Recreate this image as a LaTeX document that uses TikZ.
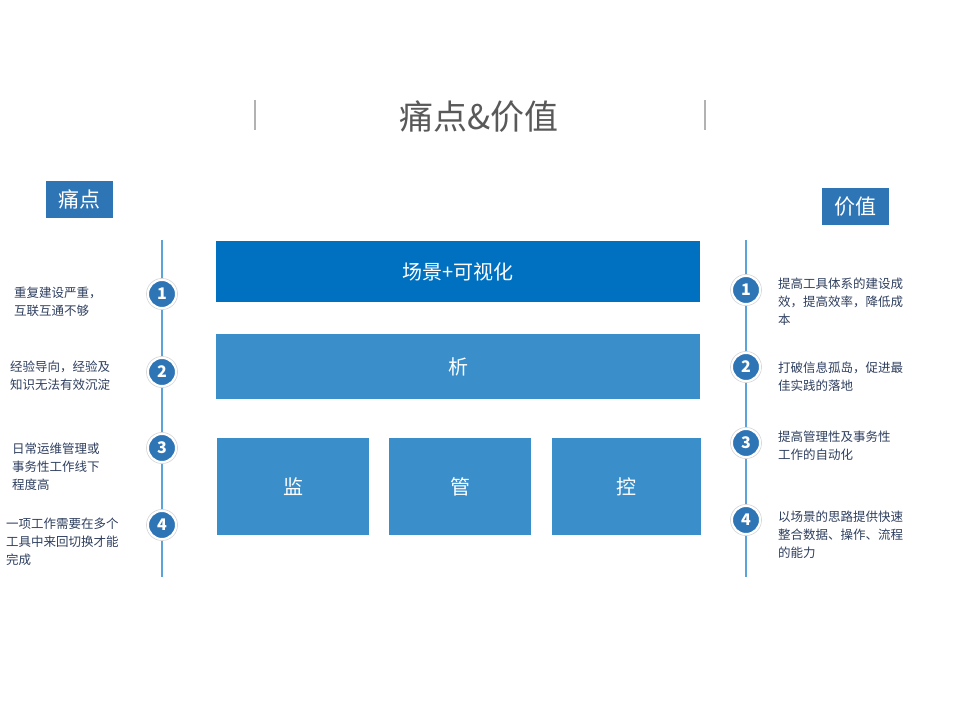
\documentclass[tikz,border=0pt]{standalone}
\usepackage{fontspec}
\setmainfont{Noto Sans CJK SC}
\begin{document}
\begin{tikzpicture}[x=1pt,y=-1pt,
  bigbox/.style={draw=none,fill=#1,text=white,font=\fontsize{20}{24}\selectfont,inner sep=0},
  tag/.style={fill=blue1,text=white,font=\fontsize{21}{24}\selectfont,minimum width=67pt,minimum height=37pt,inner sep=0},
  num/.style={circle,fill=blue1,draw=white,line width=2pt,minimum size=28pt,inner sep=0,text=white,font=\fontsize{16}{18}\selectfont\bfseries},
  ring/.style={circle,draw=gray!30,line width=0.8pt,minimum size=31pt},
  desc/.style={anchor=north west,align=left,text=txt,font=\fontsize{12.5}{18}\selectfont,inner sep=0}]
\definecolor{blue1}{HTML}{2E75B6}
\definecolor{dark}{HTML}{0070C0}
\definecolor{light}{HTML}{3A8FCB}
\definecolor{vline}{HTML}{5BA3D9}
\definecolor{txt}{HTML}{2F3F5F}
\useasboundingbox[fill=white] (0,0) rectangle (959,719);
\node (title) at (479,117) {\fontsize{34}{38}\selectfont\color[HTML]{595959}痛点\&价值};
\draw[gray!60,line width=1.2pt] (255,100) coordinate (tl1) -- (255,130) coordinate (tl2);
\draw[gray!60,line width=1.2pt] (705,100) coordinate (tr1) -- (705,130) coordinate (tr2);
\node[tag] (tagL) at (79.5,199.5) {痛点};
\node[tag] (tagR) at (855.5,206.5) {价值};
\coordinate (l0) at (162,240); \coordinate (l1) at (162,577);
\coordinate (r0) at (746,240); \coordinate (r1) at (746,577);
\draw[vline,line width=1.2pt] (l0) -- (l1);
\draw[vline,line width=1.2pt] (r0) -- (r1);
\foreach \n/\y in {1/294,2/372,3/448,4/525}{
  \node[ring] at (162,\y) {}; \node[num] (L\n) at (162,\y) {\n};}
\foreach \n/\y in {1/290,2/367,3/443,4/520}{
  \node[ring] at (746,\y) {}; \node[num] (R\n) at (746,\y) {\n};}
\node[desc] (dl1) at (14,287) {重复建设严重，\\互联互通不够};
\node[desc] (dl2) at (10,361) {经验导向，经验及\\知识无法有效沉淀};
\node[desc] (dl3) at (12,443) {日常运维管理或\\事务性工作线下\\程度高};
\node[desc] (dl4) at (6,518) {一项工作需要在多个\\工具中来回切换才能\\完成};
\node[desc] (dr1) at (778,278) {提高工具体系的建设成\\效，提高效率，降低成\\本};
\node[desc] (dr2) at (778,362) {打破信息孤岛，促进最\\佳实践的落地};
\node[desc] (dr3) at (778,431) {提高管理性及事务性\\工作的自动化};
\node[desc] (dr4) at (778,511) {以场景的思路提供快速\\整合数据、操作、流程\\的能力};
\node[bigbox=dark,minimum width=484pt,minimum height=61pt] (b1) at (458,271.5) {场景+可视化};
\node[bigbox=light,minimum width=484pt,minimum height=65pt] (b2) at (458,366.5) {析};
\node[bigbox=light,minimum width=152pt,minimum height=97pt] (b3) at (293,486.5) {监};
\node[bigbox=light,minimum width=142pt,minimum height=97pt] (b4) at (460,486.5) {管};
\node[bigbox=light,minimum width=149pt,minimum height=97pt] (b5) at (626.5,486.5) {控};
\end{tikzpicture}
\end{document}
